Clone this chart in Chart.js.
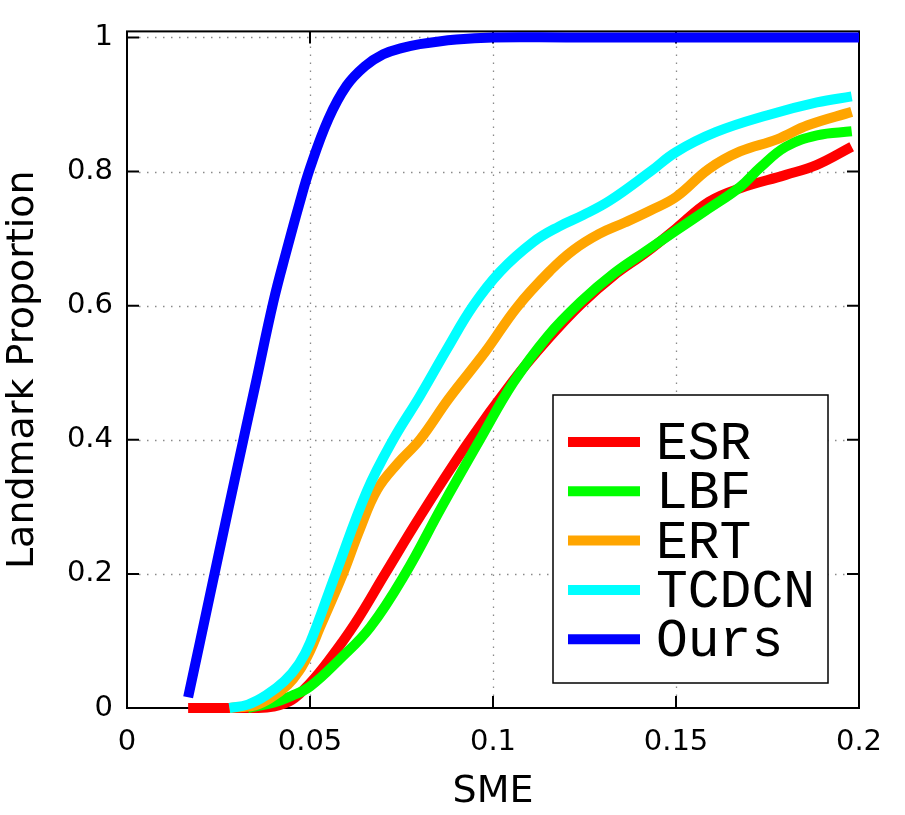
<!DOCTYPE html>
<html><head><meta charset="utf-8">
<style>html,body{margin:0;padding:0;background:#fff;}#wrap{width:905px;height:815px;}</style>
<script src="https://cdn.jsdelivr.net/npm/chart.js@4.4.0/dist/chart.umd.min.js"></script>
</head><body><div id="wrap"><canvas id="c" width="905" height="815"></canvas></div>
<script>
const xTicks = [0, 0.05, 0.1, 0.15, 0.2];
const xTickLabels = ['0', '0.05', '0.1', '0.15', '0.2'];
const yTicks = [0, 0.2, 0.4, 0.6, 0.8, 1];
const yTickLabels = ['0', '0.2', '0.4', '0.6', '0.8', '1'];
const seriesNames = ['ESR', 'LBF', 'ERT', 'TCDCN', 'Ours'];

const esrX = [0.0167, 0.025, 0.035, 0.04, 0.045, 0.05, 0.055, 0.0623, 0.0705, 0.08, 0.093, 0.1055, 0.115, 0.124, 0.133, 0.142, 0.15, 0.159, 0.1675, 0.18, 0.1885, 0.198];
const esrY = [0, 0, 0, 0.002, 0.012, 0.037, 0.07, 0.126, 0.2, 0.285, 0.394, 0.488, 0.55, 0.602, 0.645, 0.68, 0.715, 0.755, 0.775, 0.795, 0.81, 0.837];

const lbfX = [0.033, 0.04, 0.045, 0.05, 0.058, 0.0664, 0.076, 0.086, 0.0964, 0.1055, 0.115, 0.124, 0.133, 0.142, 0.15, 0.159, 0.1675, 0.173, 0.18, 0.1885, 0.198];
const lbfY = [0, 0.008, 0.018, 0.032, 0.072, 0.12, 0.2, 0.3, 0.40, 0.485, 0.555, 0.606, 0.648, 0.682, 0.712, 0.745, 0.777, 0.806, 0.837, 0.854, 0.86];

const ertX = [0.028, 0.035, 0.039, 0.044, 0.047, 0.05, 0.0527, 0.059, 0.0635, 0.0683, 0.074, 0.08, 0.088, 0.098, 0.1066, 0.1156, 0.122, 0.129, 0.136, 0.143, 0.15, 0.159, 0.1675, 0.1776, 0.186, 0.198];
const ertY = [0, 0.004, 0.014, 0.035, 0.055, 0.085, 0.12, 0.2, 0.265, 0.325, 0.365, 0.40, 0.462, 0.532, 0.598, 0.652, 0.683, 0.707, 0.724, 0.742, 0.762, 0.804, 0.83, 0.848, 0.869, 0.889];

const tcdcnX = [0.028, 0.033, 0.038, 0.043, 0.047, 0.05, 0.057, 0.0656, 0.0727, 0.08, 0.0874, 0.0946, 0.102, 0.111, 0.118, 0.1246, 0.132, 0.143, 0.15, 0.161, 0.175, 0.1885, 0.198];
const tcdcnY = [0, 0.005, 0.019, 0.04, 0.066, 0.097, 0.2, 0.324, 0.40, 0.465, 0.535, 0.6, 0.651, 0.695, 0.718, 0.735, 0.757, 0.80, 0.829, 0.859, 0.884, 0.903, 0.912];

const oursX = [0.0167, 0.02, 0.025, 0.03, 0.035, 0.04, 0.0437, 0.047, 0.05, 0.055, 0.06, 0.065, 0.07, 0.075, 0.08, 0.09, 0.1, 0.12, 0.15, 0.2];
const oursY = [0.016, 0.10, 0.228, 0.355, 0.48, 0.606, 0.684, 0.75, 0.805, 0.878, 0.928, 0.957, 0.975, 0.984, 0.99, 0.997, 1.0, 1.0, 1.0, 1.0];

const seriesColors = ['#ff0000', '#00ff00', '#ffa500', '#00ffff', '#0000ff'];

const toPts = (xs, ys) => xs.map((x, i) => ({x: x, y: ys[i]}));
const seriesData = [toPts(esrX, esrY), toPts(lbfX, lbfY), toPts(ertX, ertY), toPts(tcdcnX, tcdcnY), toPts(oursX, oursY)];

const datasets = seriesNames.map((name, i) => ({
  label: name,
  data: seriesData[i],
  borderColor: seriesColors[i],
  backgroundColor: seriesColors[i],
  borderWidth: 10,
  pointRadius: 0,
  fill: false,
  tension: 0.4,
  borderCapStyle: 'butt',
  borderJoinStyle: 'round',
  clip: false,
  order: seriesNames.length - i
}));

const framePlugin = {
  id: 'framePlugin',
  beforeDatasetsDraw(chart) {
    const {ctx, chartArea: a, scales: {x, y}} = chart;
    ctx.save();
    ctx.strokeStyle = '#8a8a8a';
    ctx.lineWidth = 1.3;
    ctx.setLineDash([1.5, 6.5]);
    xTicks.forEach(v => {
      if (v <= xTicks[0] || v >= xTicks[xTicks.length - 1]) return;
      const px = Math.round(x.getPixelForValue(v)) + 0.5;
      ctx.beginPath(); ctx.moveTo(px, a.bottom - 12); ctx.lineTo(px, a.top + 12); ctx.stroke();
    });
    yTicks.forEach(v => {
      if (v <= yTicks[0]) return;
      const py = Math.round(y.getPixelForValue(v)) + 0.5;
      ctx.beginPath(); ctx.moveTo(a.left + 12, py); ctx.lineTo(a.right - 12, py); ctx.stroke();
    });
    ctx.setLineDash([]);
    ctx.strokeStyle = '#000';
    ctx.lineWidth = 2;
    ctx.strokeRect(a.left, a.top, a.right - a.left, a.bottom - a.top);
    xTicks.forEach(v => {
      const px = x.getPixelForValue(v);
      ctx.beginPath(); ctx.moveTo(px, a.bottom); ctx.lineTo(px, a.bottom - 12);
      ctx.moveTo(px, a.top); ctx.lineTo(px, a.top + 12); ctx.stroke();
    });
    yTicks.forEach(v => {
      const py = y.getPixelForValue(v);
      ctx.beginPath(); ctx.moveTo(a.left, py); ctx.lineTo(a.left + 12, py);
      ctx.moveTo(a.right, py); ctx.lineTo(a.right - 12, py); ctx.stroke();
    });
    ctx.restore();
  }
};

const legendPlugin = {
  id: 'boxLegend',
  afterDraw(chart) {
    const {ctx} = chart;
    const left = 553, top = 395, right = 828, bottom = 683;
    ctx.save();
    ctx.fillStyle = '#fff';
    ctx.fillRect(left, top, right - left, bottom - top);
    ctx.strokeStyle = '#000';
    ctx.lineWidth = 1.5;
    ctx.strokeRect(left, top, right - left, bottom - top);
    ctx.font = '53px "Liberation Mono", "Courier New", monospace';
    ctx.textBaseline = 'middle';
    ctx.textAlign = 'left';
    chart.data.datasets.forEach((ds, i) => {
      const ry = 442 + i * 49.3;
      ctx.strokeStyle = ds.borderColor;
      ctx.lineWidth = 10;
      ctx.lineCap = 'butt';
      ctx.beginPath(); ctx.moveTo(568, ry); ctx.lineTo(640, ry); ctx.stroke();
      ctx.fillStyle = '#000';
      ctx.fillText(ds.label, 656, ry + 3);
    });
    ctx.restore();
  }
};

new Chart(document.getElementById('c'), {
  type: 'line',
  data: {datasets: datasets},
  options: {
    responsive: false,
    animation: false,
    devicePixelRatio: 1,
    layout: {padding: {top: 29, right: 46, left: 0, bottom: 0}},
    plugins: {legend: {display: false}, tooltip: {enabled: false}},
    scales: {
      x: {
        type: 'linear', min: 0, max: 0.2,
        afterBuildTicks: s => { s.ticks = xTicks.map(v => ({value: v})); },
        afterFit: s => { s.height = 107; },
        grid: {display: false, drawTicks: false},
        border: {display: false},
        ticks: {
          callback: (v, i) => xTickLabels[i],
          font: {family: 'DejaVu Sans', size: 29}, color: '#000', padding: 17,
          maxRotation: 0, autoSkip: false
        },
        title: {display: true, text: 'SME', font: {family: 'DejaVu Sans', size: 38}, color: '#000', padding: {top: 0, bottom: 0}}
      },
      y: {
        type: 'linear', min: 0, max: 1.009,
        afterBuildTicks: s => { s.ticks = yTicks.map(v => ({value: v})); },
        afterFit: s => { s.width = 127; },
        grid: {display: false, drawTicks: false},
        border: {display: false},
        ticks: {
          callback: (v, i) => yTickLabels[i],
          font: {family: 'DejaVu Sans', size: 29}, color: '#000', padding: 14, autoSkip: false
        },
        title: {display: true, text: 'Landmark Proportion', font: {family: 'DejaVu Sans', size: 38}, color: '#000', padding: {top: 0, bottom: 0}}
      }
    }
  },
  plugins: [framePlugin, legendPlugin]
});
</script>
</body></html>
